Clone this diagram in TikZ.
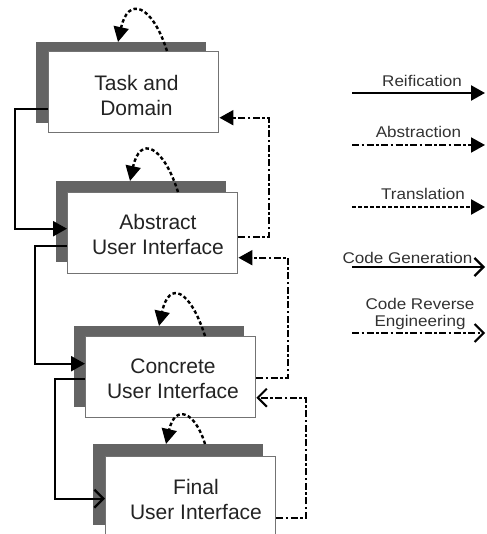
\documentclass[tikz,border=0pt]{standalone}
\usepackage{fontspec}
\setmainfont{Liberation Sans}
\newfontfamily\legendfont[FakeStretch=1.1]{Liberation Sans}
\usetikzlibrary{arrows.meta}

\definecolor{shadowgray}{RGB}{100,100,100}
\definecolor{framegray}{RGB}{115,115,115}
\definecolor{inkgray}{RGB}{35,35,35}
\definecolor{legendgray}{RGB}{50,50,50}

\tikzset{
  shadowbox/.style={fill=shadowgray, draw=none, inner sep=0pt,
    minimum width=170pt, minimum height=81pt, anchor=north west},
  uibox/.style={fill=white, draw=framegray, line width=1.4pt, inner sep=0pt,
    minimum width=170pt, minimum height=81pt, anchor=north west},
  boxtext/.style={align=center, inner sep=0pt, text=inkgray,
    font=\fontsize{21}{24.5}\selectfont},
  legendtext/.style={align=center, inner sep=0pt, text=legendgray,
    font=\legendfont\fontsize{15.5}{17}\selectfont},
  filledtip/.style={-{Triangle[length=14pt,width=15pt]}},
  opentip/.style={-{Straight Barb[length=9pt,width=18pt]}},
  reif/.style={line width=2.3pt, black, filledtip},
  abst/.style={line width=2pt, black, dash pattern=on 7pt off 2.5pt on 2.5pt off 2.5pt, filledtip},
  trans/.style={line width=2.4pt, black, dash pattern=on 3.5pt off 2.5pt, filledtip},
  codegen/.style={line width=2.3pt, black, opentip},
  coderev/.style={line width=2pt, black, dash pattern=on 7pt off 2.5pt on 2.5pt off 2.5pt, opentip},
  selfloop/.style={line width=2.4pt, black, dash pattern=on 3.5pt off 2.5pt,
    -{Triangle[length=15pt,width=15pt]}}
}

\begin{document}
\begin{tikzpicture}[x=1pt,y=-1pt]
\useasboundingbox (0,0) rectangle (486,534);
\clip (0,0) rectangle (486,534);

% model levels: shadow, box and caption
\node[shadowbox] (s1) at (36,42) {};
\node[uibox] (b1) at (48,51) {};
\node[boxtext] (t1) at (136.5,95.5) {Task and\\Domain};

\node[shadowbox] (s2) at (56,181) {};
\node[uibox] (b2) at (67,192) {};
\node[boxtext] (t2) at (158,234.5) {Abstract\\User Interface};

\node[shadowbox] (s3) at (74,326) {};
\node[uibox] (b3) at (85,336) {};
\node[boxtext] (t3) at (173,379) {Concrete\\User Interface};

\node[shadowbox] (s4) at (93,444) {};
\node[uibox] (b4) at (105,456) {};
\node[boxtext] (t4) at (196,499.5) {Final\\User Interface};

% translations within each level
\draw[selfloop] ([xshift=119pt]b1.north west) .. controls +(-15,-47) and +(10,-46) .. ([xshift=82pt]s1.north west);
\draw[selfloop] ([xshift=111pt]b2.north west) .. controls +(-15,-47) and +(10,-46) .. ([xshift=74pt]s2.north west);
\draw[selfloop] ([xshift=120pt]b3.north west) .. controls +(-15,-47) and +(10,-46) .. ([xshift=85pt]s3.north west);
\draw[selfloop] ([xshift=112pt]s4.north west) .. controls +(-10,-33) and +(9,-40) .. ([xshift=73pt]s4.north west);

% reification down the levels
\draw[reif] ([yshift=-16.5pt]b1.west) -- ++(-33,0) |- ([yshift=4.5pt]b2.west);
\draw[reif] ([yshift=-12.5pt]b2.west) -- ++(-32,0) |- ([yshift=13.5pt]b3.west);
\draw[codegen] ([yshift=-1.5pt]b3.west) -- ++(-30,0) |- ([yshift=-1.5pt]b4.west);

% abstraction and reverse engineering up the levels
\draw[abst] ([yshift=-3.5pt]b2.east) -- ++(31,0) |- ([yshift=-25.5pt]b1.east);
\draw[abst] ([yshift=-0.5pt]b3.east) -- ++(32,0) |- ([yshift=-24.5pt]b2.east);
\draw[coderev] ([yshift=-20.5pt]b4.east) -- ++(30,0) |- ([yshift=-20.5pt]b3.east);

% legend
\coordinate (r0) at (352,93);  \coordinate (r1) at (485,93);
\coordinate (a0) at (352,145); \coordinate (a1) at (485,145);
\coordinate (l0) at (352,207); \coordinate (l1) at (485,207);
\coordinate (g0) at (352,267); \coordinate (g1) at (485,267);
\coordinate (e0) at (352,333); \coordinate (e1) at (485,333);

\draw[reif] (r0) -- (r1);
\draw[abst] (a0) -- (a1);
\draw[trans] (l0) -- (l1);
\draw[codegen] (g0) -- (g1);
\draw[coderev] (e0) -- (e1);

\node[legendtext, anchor=base] (lr) at (422,87) {Reification};
\node[legendtext, anchor=base] (la) at (418.5,138) {Abstraction};
\node[legendtext, anchor=base] (ll) at (423,200) {Translation};
\node[legendtext, anchor=base] (lg) at (407.5,263) {Code Generation};
\node[legendtext, anchor=north] (le) at (420,298.5) {Code Reverse\\Engineering};
\end{tikzpicture}
\end{document}
